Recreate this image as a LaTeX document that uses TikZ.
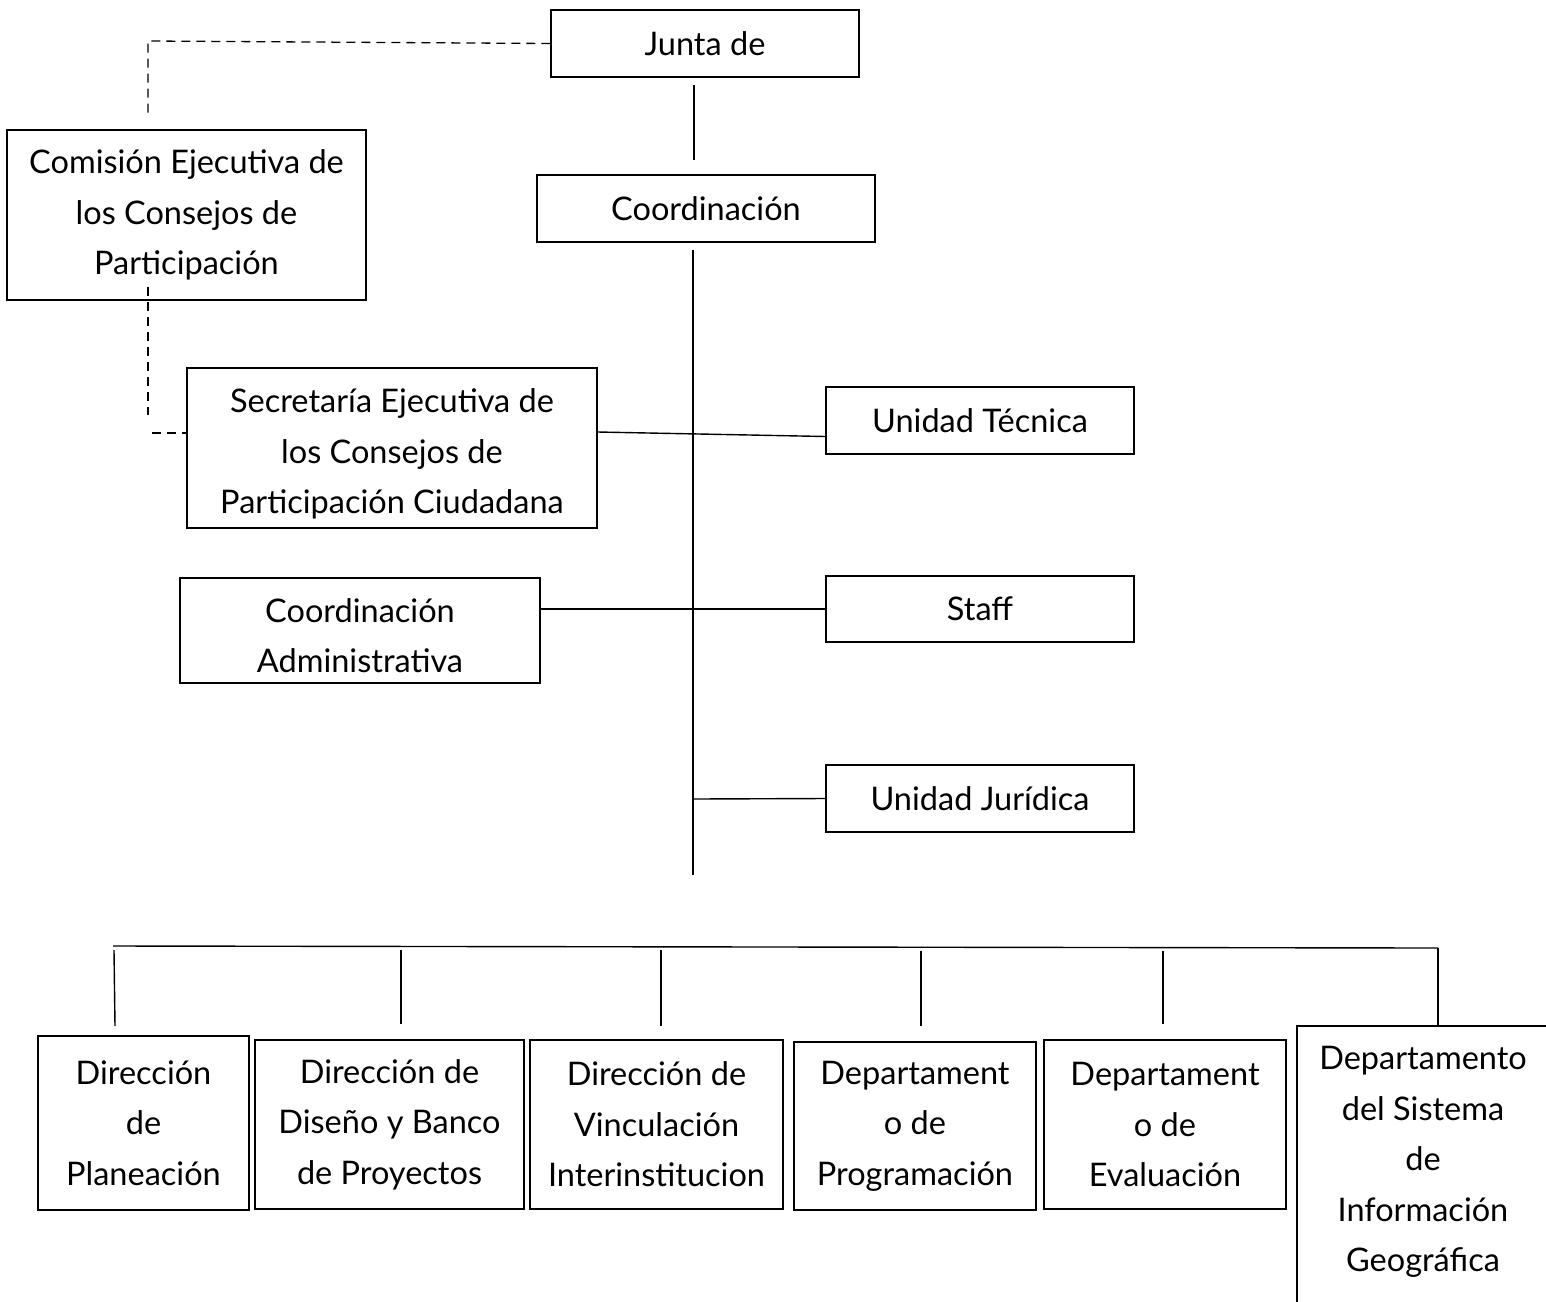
\documentclass[tikz,border=0pt]{standalone}
\usepackage{fontspec}
\setmainfont{Lato}
\begin{document}
\begin{tikzpicture}[x=1pt,y=-1pt,
  box/.style={draw=black, line width=1.3pt, rectangle, inner sep=0pt, align=center,
    font=\fontsize{32.5}{50.5}\selectfont},
  txt/.style={inner sep=0pt, align=center, font=\fontsize{32.5}{50.5}\selectfont},
  conn/.style={draw=black, line width=1.4pt},
  dconn/.style={draw=black, line width=1.3pt, dash pattern=on 9pt off 6pt}]
\useasboundingbox (0,0) rectangle (1546,1301);
\clip (0,0) rectangle (1546,1301);
% top
\node[box, minimum width=308, minimum height=67] (junta) at (705,43.5) {Junta de};
\node[box, minimum width=338, minimum height=67] (coord) at (706,208.5) {Coordinación};
\node[box, minimum width=359, minimum height=170] (comision) at (186.5,215) {Comisión Ejecutiva de\\los Consejos de\\Participación};
\node[box, minimum width=410, minimum height=160] (secre) at (392,448) {};
\node[txt] (secret) at ([yshift=-6pt]secre.center) {Secretaría Ejecutiva de\\los Consejos de\\Participación Ciudadana};
\node[box, minimum width=360, minimum height=105] (cadm) at (360,630.5) {};
\node[txt] (cadmt) at ([yshift=-5pt]cadm.center) {Coordinación\\Administrativa};
\node[box, minimum width=308, minimum height=67] (utec) at (980,420.5) {Unidad Técnica};
\node[box, minimum width=308, minimum height=66] (staff) at (980,609) {Staff};
\node[box, minimum width=308, minimum height=67] (ujur) at (980,798.5) {Unidad Jurídica};
% bottom
\node[box, minimum width=211, minimum height=174] (b1) at (143.5,1123) {Dirección\\de\\Planeación};
\node[box, minimum width=269, minimum height=169] (b2) at (389.5,1124.5) {Dirección de\\Diseño y Banco\\de Proyectos};
\node[box, minimum width=253, minimum height=169] (b3) at (656.5,1124.5) {Dirección de\\Vinculación\\Interinstitucion};
\node[box, minimum width=242, minimum height=168] (b4) at (915,1126) {Departament\\o de\\Programación};
\node[box, minimum width=242, minimum height=169] (b5) at (1165,1124.5) {Departament\\o de\\Evaluación};
\node[box, minimum width=252, minimum height=300] (b6) at (1423,1176) {};
\node[txt] (b6t) at (1423,1162) {Departamento\\del Sistema\\de\\Información\\Geográfica};
% coordinates
\coordinate (jc1) at (694,85);
\coordinate (jc2) at (694,160);
\coordinate (vtop) at (693,250);
\coordinate (vbot) at (693,875);
\coordinate (vj) at (693,799);
\coordinate (bl) at (113,946);
\coordinate (br) at (1438,948);
% solid connectors
\draw[conn] (jc1) -- (jc2);
\draw[conn] (vtop) -- (vbot);
\draw[conn] (secre.east) ++(0,-16) -- ([yshift=-16pt]utec.west);
\draw[conn] (cadm.east |- staff.west) -- (staff.west);
\draw[conn] (vj) -- (ujur.west);
\draw[conn] (bl) -- (br);
\draw[conn] (114,950) -- (115,1026);
\draw[conn] (401,950) -- (401,1024);
\draw[conn] (661,950) -- (661,1026);
\draw[conn] (921,951) -- (921,1026);
\draw[conn] (1163,951) -- (1163,1024);
\draw[conn] (1438,948) -- (1438,1026);
% dashed connectors
\coordinate (d1) at (148,41);
\coordinate (d2) at (148,118);
\draw[dconn] (junta.west) -- (d1) -- (d2);
\coordinate (d3) at (148,287);
\coordinate (d4) at (148,415);
\coordinate (d5) at (152,433);
\draw[dconn] (d3) -- (d4);
\draw[dconn] (d5) -- (secre.west |- d5);
\end{tikzpicture}
\end{document}
